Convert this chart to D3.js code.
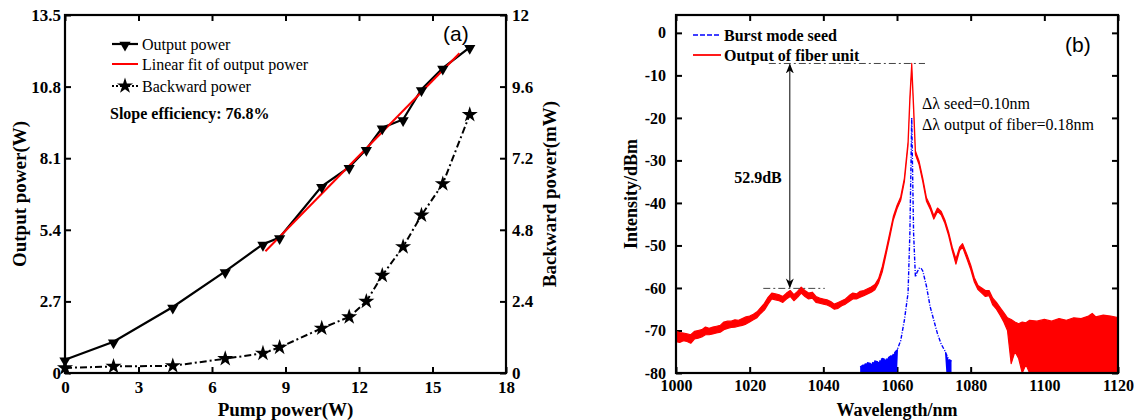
<!doctype html>
<html lang="en">
<head>
  <meta charset="utf-8">
  <title>Output power and spectrum</title>
  <script src="https://d3js.org/d3.v7.min.js"></script>
  <style>
    body { margin: 0; background: #fff; }
    text { font-family: "Liberation Serif", "Times New Roman", serif; fill: #000; }
  </style>
</head>
<body>
  <div id='my_chart'></div>
</body>
<script>
  // ---- panel (a) data ----
  const pump = [0, 1.98, 4.4, 6.54, 8.08, 8.76, 10.48, 11.6, 12.3, 12.95, 13.8, 14.55, 15.42, 16.52];
  const output_power = [0.5, 1.18, 2.49, 3.83, 4.86, 5.11, 7.04, 7.76, 8.44, 9.25, 9.56, 10.69, 11.5, 12.28];
  const backward_power = [0.17, 0.22, 0.24, 0.48, 0.66, 0.86, 1.5, 1.88, 2.4, 3.27, 4.23, 5.29, 6.34, 8.66];
  const fit_pump = [8.18, 16.1];
  const fit_output = [4.59, 12.06];
  const pump_ticks = [0, 3, 6, 9, 12, 15, 18];
  const output_ticks = [0, 2.7, 5.4, 8.1, 10.8, 13.5];
  const backward_ticks = [0, 2.4, 4.8, 7.2, 9.6, 12];

  // ---- panel (b) data ----
  const out_wl = [1000, 1001, 1002, 1003, 1004, 1005, 1006, 1007, 1008, 1009, 1010, 1011, 1012, 1013, 1014, 1015,
    1016, 1017, 1018, 1019, 1020, 1021, 1022, 1023, 1024, 1025, 1026, 1027, 1028, 1029, 1030, 1031, 1032, 1033,
    1034, 1035, 1036, 1037, 1038, 1039, 1040, 1041, 1042, 1043, 1044, 1045, 1046, 1047, 1048, 1049, 1050, 1051,
    1052, 1053, 1054, 1055, 1056, 1057, 1058, 1059, 1060, 1061, 1062, 1063, 1063.5, 1064, 1064.5, 1065, 1066,
    1067, 1068, 1069, 1070, 1071, 1072, 1073, 1074, 1075, 1076, 1077, 1077.8, 1079, 1080, 1081, 1082, 1083,
    1084, 1085, 1086, 1087, 1088, 1089, 1090, 1091, 1092, 1093, 1094, 1095, 1096, 1098, 1100, 1102, 1104,
    1106, 1108, 1110, 1112, 1113, 1114, 1116, 1118, 1120];
  const out_hi = [-70.2, -70.5, -70.6, -70.8, -71.0, -70.2, -70.0, -69.8, -69.2, -69.5, -69.2, -69.0, -68.8, -68.0,
    -67.8, -67.8, -67.5, -67.6, -67.2, -66.8, -66.6, -66.2, -65.6, -64.6, -63.6, -62.2, -61.2, -61.4, -61.6, -62.0,
    -61.2, -60.6, -61.6, -60.8, -59.8, -60.6, -61.2, -61.0, -62.0, -62.4, -62.6, -62.8, -63.2, -63.8, -63.4, -63.0,
    -62.6, -61.8, -61.2, -61.4, -60.8, -60.6, -60.2, -59.8, -59.2, -57.8, -55.0, -51.2, -47.2, -43.2, -40.6, -38.6,
    -34.2, -25.6, -15.0, -7.2, -17.0, -27.8, -30.2, -34.2, -38.8, -40.6, -43.0, -41.2, -42.0, -44.0, -46.8, -50.4,
    -53.2, -50.4, -49.6, -52.2, -54.6, -57.6, -59.4, -60.0, -60.6, -60.6, -62.4, -63.4, -64.6, -65.8, -67.0, -67.4,
    -68.0, -68.4, -68.0, -68.2, -67.6, -67.8, -67.4, -67.8, -67.2, -67.6, -67.0, -67.2, -66.6, -66.0, -66.8, -66.4,
    -66.6, -67.0];
  const out_lo = [-72.6, -72.8, -72.4, -72.6, -73.0, -72.0, -71.8, -71.5, -71.0, -71.0, -70.8, -70.6, -70.4, -69.8,
    -69.5, -69.3, -69.2, -69.0, -68.8, -68.5, -68.0, -67.5, -67.0, -66.0, -65.2, -63.8, -62.6, -62.8, -63.0, -63.4,
    -62.6, -62.0, -63.0, -62.2, -61.2, -62.0, -62.6, -62.4, -63.4, -63.6, -63.8, -64.0, -64.4, -65.0, -64.8, -64.2,
    -63.8, -63.2, -62.6, -62.6, -62.2, -61.8, -61.4, -61.0, -60.4, -58.8, -56.2, -52.2, -48.2, -44.0, -41.4, -39.4,
    -35.0, -26.4, -16.0, -8.0, -18.0, -28.6, -31.0, -35.0, -39.6, -41.4, -43.8, -42.0, -42.8, -44.8, -47.6, -51.2,
    -54.4, -51.2, -50.4, -53.2, -55.6, -58.6, -60.4, -61.2, -62.0, -61.8, -64.0, -65.0, -66.4, -68.0, -70.0, -77.8,
    -75.0, -76.5, -80, -78, -80, -80, -80, -80, -80, -80, -80, -80, -80, -80, -80, -80, -80, -80];

  const seed_wl = [1050, 1051, 1052, 1053, 1054, 1055, 1056, 1057, 1058, 1059, 1060, 1060.3, 1061, 1062, 1063,
    1063.5, 1064, 1064.5, 1065, 1065.5, 1066, 1066.5, 1067, 1068, 1069, 1070, 1071, 1072, 1073, 1073.4, 1074, 1074.5, 1074.8];
  const seed_hi = [-78.6, -78.0, -77.6, -77.8, -77.2, -77.4, -76.6, -76.8, -76.2, -75.6, -74.6, -74.0, -72.4, -67.6,
    -61.2, -47, -20, -47, -57.4, -56.2, -55.4, -55.3, -56.0, -59.6, -64.4, -67.6, -70.8, -73.2, -74.8, -75.6, -76.8, -77.0, -77.2];
  const seed_lo = [-80, -80, -80, -80, -80, -80, -80, -80, -80, -80, -80, -74.0, -72.4, -67.6,
    -61.2, -47, -20, -47, -57.4, -56.2, -55.4, -55.3, -56.0, -59.6, -64.4, -67.6, -70.8, -73.2, -74.8, -80, -80, -80, -80];

  const wl_ticks = [1000, 1020, 1040, 1060, 1080, 1100, 1120];
  const dbm_ticks = [0, -10, -20, -30, -40, -50, -60, -70, -80];
  const peak_level = -7.2;
  const floor_level = -60.1;
  const peak_line_wl = [1025.2, 1067.6];
  const floor_line_wl = [1023.7, 1040.4];
  const arrow_wl = 1030.9;

  const width = 1134;
  const height = 420;
  const A = {left: 65, right: 506, top: 15, bottom: 373};
  const B = {left: 676, right: 1118, top: 15, bottom: 373};
  const serif = '"Liberation Serif", "Times New Roman", serif';
  const plain = d => String(d);

  const svg = d3.select('#my_chart').append('svg')
    .attr('width', width)
    .attr('height', height)
    .style('display', 'block');

  const defs = svg.append('defs');
  defs.append('clipPath').attr('id', 'clipB')
    .append('rect')
      .attr('x', B.left).attr('y', B.top)
      .attr('width', B.right - B.left).attr('height', B.bottom - B.top);
  defs.append('marker')
    .attr('id', 'arrowhead')
    .attr('viewBox', '0 0 10 10')
    .attr('refX', 9).attr('refY', 5)
    .attr('markerWidth', 10).attr('markerHeight', 10)
    .attr('markerUnits', 'userSpaceOnUse')
    .attr('orient', 'auto-start-reverse')
    .append('path')
      .attr('d', 'M0,1 L10,5 L0,9 L3,5 Z')
      .attr('fill', '#000');

  function style_axis(g, size) {
    g.attr('font-family', null).attr('font-size', null);
    g.select('.domain').remove();
    g.selectAll('.tick line').attr('stroke', '#000').attr('stroke-width', 2);
    g.selectAll('.tick text')
      .style('font-family', serif)
      .style('font-weight', 'bold')
      .style('font-size', size + 'px')
      .attr('fill', '#000');
  }

  // ================= panel (a) =================
  const x = d3.scaleLinear().domain([0, 18]).range([A.left, A.right]);
  const y = d3.scaleLinear().domain([0, 13.5]).range([A.bottom, A.top]);
  const y2 = d3.scaleLinear().domain([0, 12]).range([A.bottom, A.top]);

  const ga = svg.append('g');

  ga.append('g')
    .attr('transform', 'translate(0,' + A.bottom + ')')
    .call(d3.axisBottom(x).tickValues(pump_ticks).tickFormat(plain).tickSizeInner(-6).tickSizeOuter(0).tickPadding(8))
    .call(g => style_axis(g, 17));
  ga.append('g')
    .attr('transform', 'translate(0,' + A.top + ')')
    .call(d3.axisTop(x).tickValues(pump_ticks).tickSizeInner(-6).tickSizeOuter(0).tickFormat(''))
    .call(g => style_axis(g, 17));
  ga.append('g')
    .attr('transform', 'translate(' + A.left + ',0)')
    .call(d3.axisLeft(y).tickValues(output_ticks).tickFormat(plain).tickSizeInner(-6).tickSizeOuter(0).tickPadding(4))
    .call(g => style_axis(g, 17));
  ga.append('g')
    .attr('transform', 'translate(' + A.right + ',0)')
    .call(d3.axisRight(y2).tickValues(backward_ticks).tickFormat(plain).tickSizeInner(-6).tickSizeOuter(0).tickPadding(6))
    .call(g => style_axis(g, 17));

  ga.append('rect')
    .attr('x', A.left).attr('y', A.top)
    .attr('width', A.right - A.left).attr('height', A.bottom - A.top)
    .attr('fill', 'none').attr('stroke', '#000').attr('stroke-width', 2.2);

  const pts_out = pump.map((p, i) => ({x: p, y: output_power[i]}));
  const pts_back = pump.map((p, i) => ({x: p, y: backward_power[i]}));
  const pts_fit = fit_pump.map((p, i) => ({x: p, y: fit_output[i]}));

  ga.append('path').datum(pts_back)
    .attr('fill', 'none').attr('stroke', '#000').attr('stroke-width', 2)
    .attr('stroke-dasharray', '7,3,2,3')
    .attr('d', d3.line().x(d => x(d.x)).y(d => y2(d.y)));
  ga.append('path').datum(pts_out)
    .attr('fill', 'none').attr('stroke', '#000').attr('stroke-width', 2.2)
    .attr('d', d3.line().x(d => x(d.x)).y(d => y(d.y)));
  ga.append('path').datum(pts_fit)
    .attr('fill', 'none').attr('stroke', '#ff0000').attr('stroke-width', 2)
    .attr('d', d3.line().x(d => x(d.x)).y(d => y(d.y)));

  const tri = d3.symbol().type(d3.symbolTriangle).size(55);
  const star = d3.symbol().type(d3.symbolStar).size(80);

  ga.selectAll('.tri').data(pts_out).enter().append('path')
    .attr('class', 'tri')
    .attr('d', tri)
    .attr('transform', d => 'translate(' + x(d.x) + ',' + (y(d.y) + 1) + ') rotate(180)')
    .attr('fill', '#000');
  ga.selectAll('.star').data(pts_back).enter().append('path')
    .attr('class', 'star')
    .attr('d', star)
    .attr('transform', d => 'translate(' + x(d.x) + ',' + y2(d.y) + ')')
    .attr('fill', '#000');

  // legend (a)
  const lx0 = 112, lx1 = 138, ltx = 142;
  const lg = ga.append('g');
  lg.append('line').attr('x1', lx0).attr('x2', lx1).attr('y1', 44).attr('y2', 44)
    .attr('stroke', '#000').attr('stroke-width', 2.2);
  lg.append('path').attr('d', tri).attr('fill', '#000')
    .attr('transform', 'translate(' + ((lx0 + lx1) / 2) + ',45) rotate(180)');
  lg.append('text').attr('x', ltx).attr('y', 49.5).attr('font-size', 16).text('Output power');
  lg.append('line').attr('x1', lx0).attr('x2', lx1).attr('y1', 64).attr('y2', 64)
    .attr('stroke', '#ff0000').attr('stroke-width', 2);
  lg.append('text').attr('x', ltx).attr('y', 69.5).attr('font-size', 16).text('Linear fit of output power');
  lg.append('line').attr('x1', lx0).attr('x2', lx1).attr('y1', 86).attr('y2', 86)
    .attr('stroke', '#000').attr('stroke-width', 2).attr('stroke-dasharray', '2,2');
  lg.append('path').attr('d', star).attr('fill', '#000')
    .attr('transform', 'translate(' + ((lx0 + lx1) / 2) + ',86)');
  lg.append('text').attr('x', ltx).attr('y', 91.5).attr('font-size', 16).text('Backward power');
  lg.append('text').attr('x', 110).attr('y', 119).attr('font-size', 16).attr('font-weight', 'bold')
    .text('Slope efficiency: 76.8%');

  ga.append('text').attr('x', 443).attr('y', 41)
    .style('font-family', '"Liberation Sans", Arial, sans-serif').attr('font-size', 21)
    .text('(a)');

  ga.append('text')
    .attr('x', (A.left + A.right) / 2).attr('y', 416)
    .attr('text-anchor', 'middle').attr('font-size', 19).attr('font-weight', 'bold')
    .text('Pump power(W)');
  ga.append('text')
    .attr('transform', 'translate(26,' + ((A.top + A.bottom) / 2) + ') rotate(-90)')
    .attr('text-anchor', 'middle').attr('font-size', 19).attr('font-weight', 'bold')
    .text('Output power(W)');
  ga.append('text')
    .attr('transform', 'translate(556,' + ((A.top + A.bottom) / 2) + ') rotate(-90)')
    .attr('text-anchor', 'middle').attr('font-size', 19).attr('font-weight', 'bold')
    .text('Backward power(mW)');

  // ================= panel (b) =================
  const xb = d3.scaleLinear().domain([1000, 1120]).range([B.left, B.right]);
  const yb = d3.scaleLinear().domain([-80, 4.2]).range([B.bottom, B.top]);

  const gb = svg.append('g');

  gb.append('g')
    .attr('transform', 'translate(0,' + B.bottom + ')')
    .call(d3.axisBottom(xb).tickValues(wl_ticks).tickFormat(plain).tickSizeInner(-6).tickSizeOuter(0).tickPadding(7))
    .call(g => style_axis(g, 16));
  gb.append('g')
    .attr('transform', 'translate(0,' + B.top + ')')
    .call(d3.axisTop(xb).tickValues(wl_ticks).tickSizeInner(-6).tickSizeOuter(0).tickFormat(''))
    .call(g => style_axis(g, 16));
  gb.append('g')
    .attr('transform', 'translate(' + B.left + ',0)')
    .call(d3.axisLeft(yb).tickValues(dbm_ticks).tickFormat(plain).tickSizeInner(-6).tickSizeOuter(0).tickPadding(10))
    .call(g => style_axis(g, 16));
  gb.append('g')
    .attr('transform', 'translate(' + B.right + ',0)')
    .call(d3.axisRight(yb).tickValues(dbm_ticks).tickSizeInner(-6).tickSizeOuter(0).tickFormat(''))
    .call(g => style_axis(g, 16));

  const spec = gb.append('g').attr('clip-path', 'url(#clipB)');

  const out_pts = out_wl.map((w, i) => ({w: w, hi: out_hi[i], lo: out_lo[i]}));
  const seed_pts = seed_wl.map((w, i) => ({w: w, hi: seed_hi[i], lo: seed_lo[i]}));

  spec.append('path').datum(out_pts)
    .attr('fill', '#ff0000').attr('stroke', '#ff0000').attr('stroke-width', 1.2)
    .attr('stroke-linejoin', 'round')
    .attr('d', d3.area().x(d => xb(d.w)).y0(d => yb(d.lo)).y1(d => yb(d.hi)));

  spec.append('path').datum(seed_pts)
    .attr('fill', '#0000ff').attr('stroke', 'none')
    .attr('d', d3.area().x(d => xb(d.w)).y0(d => yb(d.lo)).y1(d => yb(d.hi)));
  spec.append('path').datum(seed_pts)
    .attr('fill', 'none').attr('stroke', '#0000ff').attr('stroke-width', 1.4)
    .attr('stroke-dasharray', '4,1.5,1,1.5')
    .attr('d', d3.line().x(d => xb(d.w)).y(d => yb(d.hi)));

  gb.append('rect')
    .attr('x', B.left).attr('y', B.top)
    .attr('width', B.right - B.left).attr('height', B.bottom - B.top)
    .attr('fill', 'none').attr('stroke', '#000').attr('stroke-width', 2.2);

  // reference lines and arrow
  gb.append('line')
    .attr('x1', xb(peak_line_wl[0])).attr('x2', xb(peak_line_wl[1]))
    .attr('y1', yb(peak_level)).attr('y2', yb(peak_level))
    .attr('stroke', '#444').attr('stroke-width', 1).attr('stroke-dasharray', '7,3,2,3');
  gb.append('line')
    .attr('x1', xb(floor_line_wl[0])).attr('x2', xb(floor_line_wl[1]))
    .attr('y1', yb(floor_level)).attr('y2', yb(floor_level))
    .attr('stroke', '#444').attr('stroke-width', 1).attr('stroke-dasharray', '7,3,2,3');
  gb.append('line')
    .attr('x1', xb(arrow_wl)).attr('x2', xb(arrow_wl))
    .attr('y1', yb(peak_level) + 1).attr('y2', yb(floor_level) - 1)
    .attr('stroke', '#000').attr('stroke-width', 1)
    .attr('marker-start', 'url(#arrowhead)').attr('marker-end', 'url(#arrowhead)');

  gb.append('text').attr('x', 758).attr('y', 183)
    .attr('text-anchor', 'middle').attr('font-size', 16).attr('font-weight', 'bold')
    .text('52.9dB');
  gb.append('text').attr('x', 922).attr('y', 109).attr('font-size', 16)
    .text('\u0394\u03bb seed=0.10nm');
  gb.append('text').attr('x', 922).attr('y', 130).attr('font-size', 16)
    .text('\u0394\u03bb output of fiber=0.18nm');

  // legend (b)
  gb.append('line').attr('x1', 693).attr('x2', 721).attr('y1', 35).attr('y2', 35)
    .attr('stroke', '#0000ff').attr('stroke-width', 1.6).attr('stroke-dasharray', '5,2');
  gb.append('text').attr('x', 724).attr('y', 40.5).attr('font-size', 16).attr('font-weight', 'bold')
    .text('Burst mode seed');
  gb.append('line').attr('x1', 693).attr('x2', 721).attr('y1', 55).attr('y2', 55)
    .attr('stroke', '#ff0000').attr('stroke-width', 1.8);
  gb.append('text').attr('x', 724).attr('y', 60.5).attr('font-size', 16).attr('font-weight', 'bold')
    .text('Output of fiber unit');

  gb.append('text').attr('x', 1065).attr('y', 52)
    .style('font-family', '"Liberation Sans", Arial, sans-serif').attr('font-size', 21)
    .text('(b)');

  gb.append('text')
    .attr('x', (B.left + B.right) / 2).attr('y', 416)
    .attr('text-anchor', 'middle').attr('font-size', 18).attr('font-weight', 'bold')
    .text('Wavelength/nm');
  gb.append('text')
    .attr('transform', 'translate(637,' + ((B.top + B.bottom) / 2) + ') rotate(-90)')
    .attr('text-anchor', 'middle').attr('font-size', 18).attr('font-weight', 'bold')
    .text('Intensity/dBm');
</script>
</html>
